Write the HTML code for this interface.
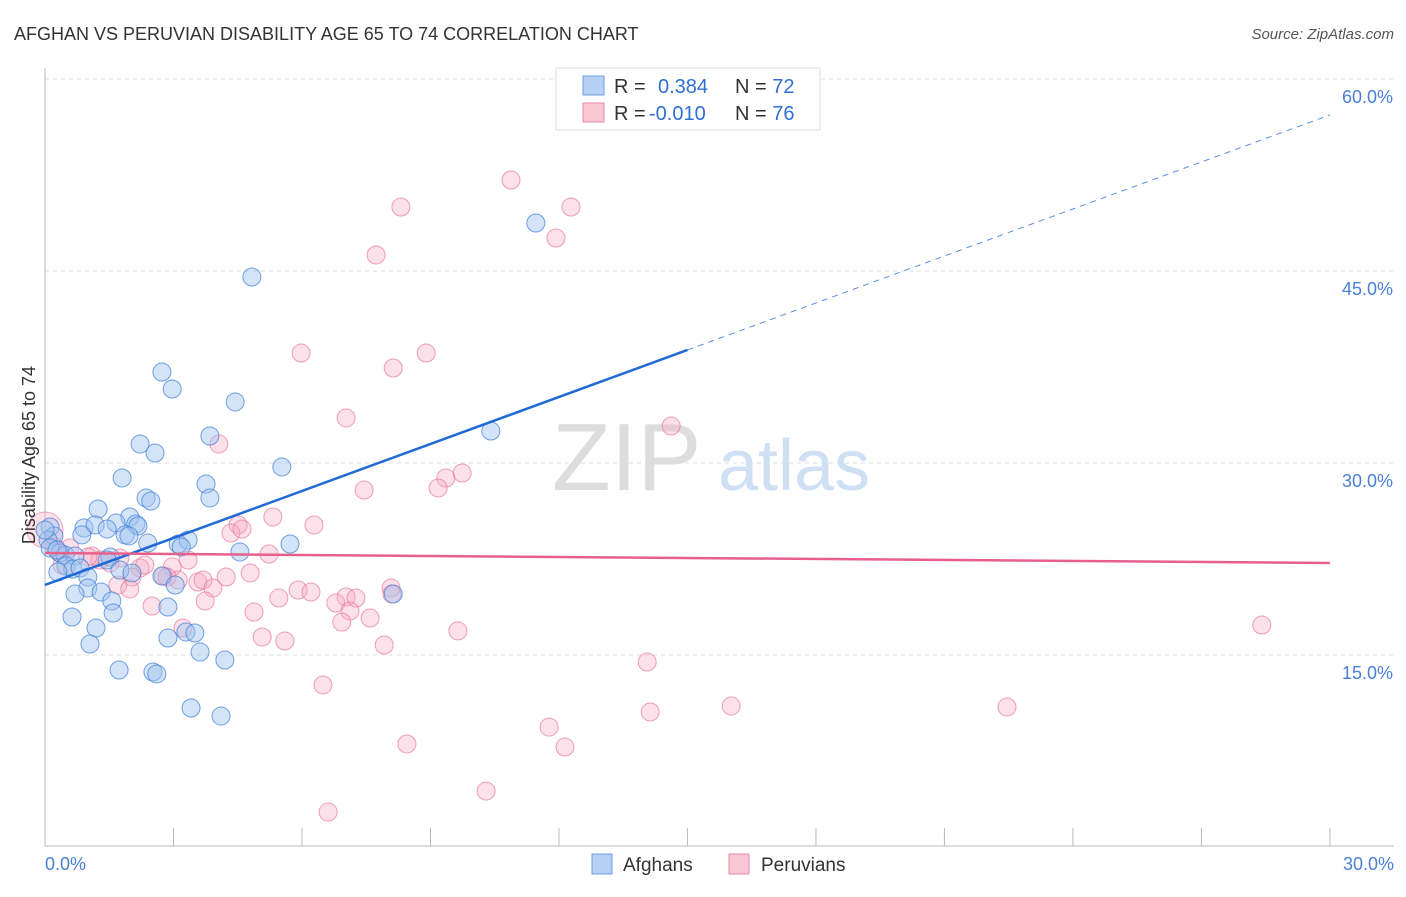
<!DOCTYPE html>
<html><head><meta charset="utf-8"><style>
body{margin:0;background:#fff;font-family:"Liberation Sans",sans-serif;}
svg text{font-family:"Liberation Sans",sans-serif;}
</style></head><body>
<svg id="chart" width="1406" height="892">
<text x="14" y="40" font-size="18" fill="#333">AFGHAN VS PERUVIAN DISABILITY AGE 65 TO 74 CORRELATION CHART</text>
<text x="1394" y="39" font-size="15" fill="#555" font-style="italic" text-anchor="end">Source: ZipAtlas.com</text>
<g id="grid"></g>
<g>
<text x="552" y="490" font-size="96" fill="#ddd" font-family="Liberation Serif">ZIP</text>
<text x="718" y="490" font-size="72" fill="#cfe0f5">atlas</text>
</g>
<g id="pts"></g>
<g id="trend"></g>
<text x="35" y="455" font-size="18" fill="#333" transform="rotate(-90 35 455)" text-anchor="middle">Disability Age 65 to 74</text>
<g>
<rect x="556" y="68" width="264" height="62" fill="#fff" stroke="#ddd"/>
<rect x="583" y="76" width="21" height="19" fill="#b7d1f5" stroke="#6d9de0"/>
<rect x="583" y="103" width="21" height="19" fill="#f9c6d5" stroke="#e98aa8"/>
<text x="614" y="93" font-size="20" fill="#333">R = <tspan fill="#2f6fd6" x="658">0.384</tspan><tspan fill="#333" x="735">N = </tspan><tspan fill="#2f6fd6">72</tspan></text>
<text x="614" y="120" font-size="20" fill="#333">R = <tspan fill="#2f6fd6" x="649">-0.010</tspan><tspan fill="#333" x="735">N = </tspan><tspan fill="#2f6fd6">76</tspan></text>
</g>
<g>
<rect x="592" y="854" width="20" height="20" fill="#b7d1f5" stroke="#6d9de0"/>
<text x="623" y="871" font-size="19" fill="#333">Afghans</text>
<rect x="729" y="854" width="20" height="20" fill="#f9c6d5" stroke="#e98aa8"/>
<text x="761" y="871" font-size="19" fill="#333">Peruvians</text>
</g>
</svg>
<script>
const yTicks=[15,30,45,60];
const yTickLabels=["15.0%","30.0%","45.0%","60.0%"];
const xTickLabels=["0.0%","30.0%"];
const afghanX=[11.46,4.83,2.73,2.97,4.44,3.85,2.22,2.57,10.41,5.53,1.80,3.76,3.85,2.36,2.47,1.24,1.98,0.91,1.17,1.66,2.12,2.17,1.45,0.86,1.87,1.96,2.40,0.12,0.21,3.11,3.34,3.18,5.72,4.55,0.35,0.47,0.70,1.52,1.45,0.49,0.65,0.30,0.82,1.75,2.03,2.73,3.04,1.00,1.00,1.31,0.70,8.13,1.56,2.87,1.59,0.63,1.19,3.29,3.50,2.87,1.05,3.62,4.20,1.73,2.52,2.61,3.41,4.11,0.07,0.12,0.28,0.0];
const afghanY=[48.75,44.53,37.11,35.78,34.77,32.11,31.48,30.78,32.5,29.69,28.83,28.36,27.27,27.27,27.03,26.41,25.78,24.92,25.16,25.31,25.23,25.08,24.84,24.38,24.38,24.30,23.75,25.0,24.30,23.67,23.98,23.44,23.67,23.05,22.97,22.81,22.73,22.66,22.42,21.95,21.72,21.48,21.80,21.64,21.41,21.17,20.47,21.09,20.23,19.92,19.77,19.77,19.22,18.75,18.28,17.97,17.11,16.8,16.72,16.33,15.86,15.23,14.61,13.83,13.67,13.52,10.86,10.23,23.98,23.36,23.2,24.77];
const peruX=[10.88,8.31,12.28,11.93,7.73,5.98,8.90,8.13,7.03,14.62,4.06,9.74,9.36,7.45,9.18,5.32,6.28,4.51,4.34,4.60,0.23,0.58,1.10,1.28,1.75,3.34,5.23,2.22,0.40,2.97,4.79,4.23,2.03,3.57,2.76,3.11,3.69,1.70,1.98,3.92,5.91,6.21,8.08,7.03,5.46,7.26,8.10,3.74,2.50,6.79,4.88,7.12,7.59,6.93,3.22,5.07,5.60,7.92,9.64,14.06,6.49,16.02,14.13,22.46,28.41,11.77,12.14,8.45,10.30,6.61,2.85,1.00,1.52,2.33,0.35];
const peruY=[52.11,50,50,47.58,46.25,38.59,38.59,37.42,33.52,32.89,31.48,29.22,28.83,27.89,28.05,25.78,25.16,25.16,24.53,24.84,23.44,23.36,22.73,22.42,22.58,22.42,22.89,21.80,22.03,21.88,21.41,21.09,21.09,20.70,21.17,20.86,20.86,20.47,20.16,20.23,20.08,19.92,20.23,19.53,19.45,19.45,19.77,19.22,18.83,19.06,18.36,18.44,17.89,17.58,17.11,16.41,16.09,15.78,16.88,14.45,12.66,11.02,10.55,10.94,17.34,9.37,7.81,8.05,4.37,2.73,21.09,22.66,22.19,22.03,22.97];
const bigPeru=[0,24.77];
const blueTrend=[20.47,38.83,57.19];
const pinkTrend=[22.97,22.19];
const NS="http://www.w3.org/2000/svg";
const X=v=>45+v*42.83, Y=v=>655-(v-15)*12.8;
function mk(t,a,p){const e=document.createElementNS(NS,t);for(const k in a)e.setAttribute(k,a[k]);p.appendChild(e);return e;}
const grid=document.getElementById('grid');
yTicks.forEach((t,i)=>{
 const l=mk('line',{x1:45,x2:1394,y1:Y(t),y2:Y(t),stroke:'#ddd','stroke-dasharray':'4 4'},grid);
 
 
 const tx=mk('text',{x:1393,y:Y(t)+24,'font-size':18,fill:'#4a80d8','text-anchor':'end'},grid);
 tx.textContent=yTickLabels[i];
 
 
});
const ax=mk('line',{x1:45,x2:45,y1:68,y2:846,stroke:'#bbb'},grid);


const bx=mk('line',{x1:45,x2:1394,y1:846,y2:846,stroke:'#bbb'},grid);


for(let i=0;i<=10;i++){const t=mk('line',{x1:X(i*3),x2:X(i*3),y1:828,y2:846,stroke:'#bbb'},grid);
 
 }
[[0,'start',45],[30,'end',1394]].forEach((d,i)=>{const t=mk('text',{x:d[2],y:870,'font-size':18,fill:'#4a80d8','text-anchor':d[1]},grid);t.textContent=xTickLabels[i];
 
 });
const pts=document.getElementById('pts');
const bc=mk('circle',{cx:X(bigPeru[0]),cy:Y(bigPeru[1]),r:18,fill:'rgba(246,170,195,0.35)',stroke:'rgba(232,120,155,0.6)'},pts);


peruX.forEach((x,i)=>{const c=mk('circle',{cx:X(x),cy:Y(peruY[i]),r:9,fill:'rgba(246,170,195,0.35)',stroke:'rgba(232,120,155,0.7)'},pts);
 
 });
afghanX.forEach((x,i)=>{const c=mk('circle',{cx:X(x),cy:Y(afghanY[i]),r:9,fill:'rgba(160,196,240,0.45)',stroke:'rgba(70,130,215,0.75)'},pts);
 
 });
const tr=document.getElementById('trend');
const b1=mk('line',{x1:X(0),y1:Y(blueTrend[0]),x2:X(15),y2:Y(blueTrend[1]),stroke:'#1f6ad6','stroke-width':2.5},tr);


const b2=mk('line',{x1:X(15),y1:Y(blueTrend[1]),x2:X(30),y2:Y(blueTrend[2]),stroke:'#5a90e0','stroke-width':1,'stroke-dasharray':'6 5'},tr);


const p1=mk('line',{x1:X(0),y1:Y(pinkTrend[0]),x2:X(30),y2:Y(pinkTrend[1]),stroke:'#e8608a','stroke-width':2.5},tr);


</script>
</body></html>
